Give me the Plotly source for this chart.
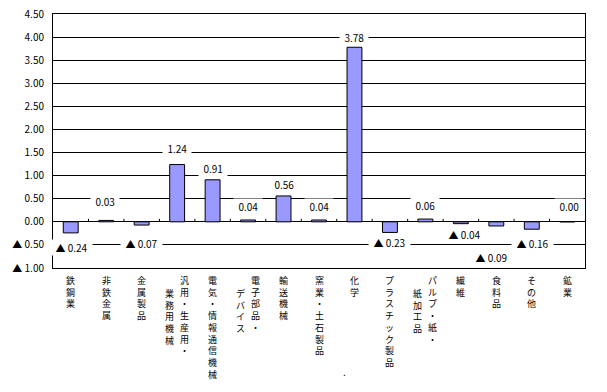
import plotly.graph_objects as go

# ---- data ----
categories = ["鉄鋼業", "非鉄金属", "金属製品", "汎用・生産用・\n業務用機械", "電気・情報通信機械",
              "電子部品・\nデバイス", "輸送機械", "窯業・土石製品", "化学", "プラスチック製品",
              "パルプ・紙・\n紙加工品", "繊維", "食料品", "その他", "鉱業"]
values = [-0.24, 0.03, -0.07, 1.24, 0.91, 0.04, 0.56, 0.04, 3.78, -0.23, 0.06, -0.04, -0.09, -0.16, 0.00]
ytick_vals = [-1.0, -0.5, 0.0, 0.5, 1.0, 1.5, 2.0, 2.5, 3.0, 3.5, 4.0, 4.5]
ytick_text = ["▲ 1.00", "▲ 0.50", "0.00", "0.50", "1.00", "1.50", "2.00", "2.50", "3.00", "3.50", "4.00", "4.50"]

# ---- layout helpers (styles / nudges) ----
label_nudge_px = [-1, 5, -5, 2, -3, 0, -2, 0, -4, 4, 0, 3, -18, 0, 1]
label_xshift_px = [1, -1, 0, 0, 0, 0, 0, 0, 0, 0, 0, 4, -5, 1, 2]
FONT = "Noto Sans CJK JP, Noto Sans, sans-serif"
NB = "\u00a0\u00a0"


def fmt(v):
    return f"▲ {abs(v):.2f}" if v < 0 else f"{v:.2f}"


xs = list(range(len(categories)))

fig = go.Figure()
fig.add_trace(go.Bar(
    x=xs, y=values,
    marker=dict(color="#9999FF", line=dict(color="black", width=1)),
    width=0.42,
    hoverinfo="skip",
))

annotations = []
# value labels (white box breaks the gridlines like the original)
for i, v in enumerate(values):
    off = 0.3 if v >= 0 else -0.3
    annotations.append(dict(
        x=i, y=v + off, xref="x", yref="y", text=NB + fmt(v) + NB, showarrow=False,
        xanchor="center", yanchor="middle",
        font=dict(family=FONT, size=10, color="black"),
        bgcolor="white", borderpad=0,
        yshift=label_nudge_px[i], xshift=label_xshift_px[i],
    ))

# vertical category labels (one character per line, columns right-to-left)
for i, cat in enumerate(categories):
    cols = cat.split("\n")
    ncol = len(cols)
    for c, col in enumerate(cols):
        if ncol == 1:
            xsh, top = 0, 5
        else:
            xsh = 7 if c == 0 else -7.5
            top = 5 if c == 0 else 17.5
        annotations.append(dict(
            x=i, y=0, xref="x", yref="paper", text="<br>".join(col), showarrow=False,
            xanchor="center", yanchor="top", align="center",
            xshift=xsh, yshift=-top, borderpad=0,
            font=dict(family=FONT, size=9, color="black"),
        ))

annotations.append(dict(x=0.547, y=-0.445, xref="paper", yref="paper", text=".",
                        showarrow=False, font=dict(family=FONT, size=10, color="black")))

# small tick marks on the zero line at category boundaries
shapes = []
for i in range(len(categories) - 1):
    shapes.append(dict(type="line", xref="x", yref="y", x0=i + 0.5, x1=i + 0.5,
                       ysizemode="pixel", yanchor=0, y0=0, y1=3,
                       line=dict(color="black", width=1)))

fig.update_layout(
    width=607, height=392,
    margin=dict(l=53, r=22, t=14, b=124, autoexpand=False),
    paper_bgcolor="white", plot_bgcolor="white",
    showlegend=False,
    bargap=0.58,
    annotations=annotations,
    shapes=shapes,
    font=dict(family=FONT, size=10, color="black"),
)
fig.update_xaxes(range=[-0.5, len(categories) - 0.5], showticklabels=False, ticks="",
                 showgrid=False, zeroline=False, showline=True, linecolor="black",
                 linewidth=1, mirror=True, automargin=False)
fig.update_yaxes(range=[-1.0, 4.5], tickvals=ytick_vals, ticktext=ytick_text,
                 showgrid=True, gridcolor="black", gridwidth=1,
                 zeroline=True, zerolinecolor="black", zerolinewidth=1,
                 showline=True, linecolor="black", linewidth=1, mirror=True,
                 ticks="", ticklabelstandoff=6, automargin=False,
                 tickfont=dict(family=FONT, size=10, color="black"))

# the page body has a default 8px margin; remove it so the figure sits at (0, 0)
fig.write_html("out.html",
               config={"displayModeBar": False, "staticPlot": True},
               post_script="document.body.style.margin='0';document.body.style.overflow='hidden';")
